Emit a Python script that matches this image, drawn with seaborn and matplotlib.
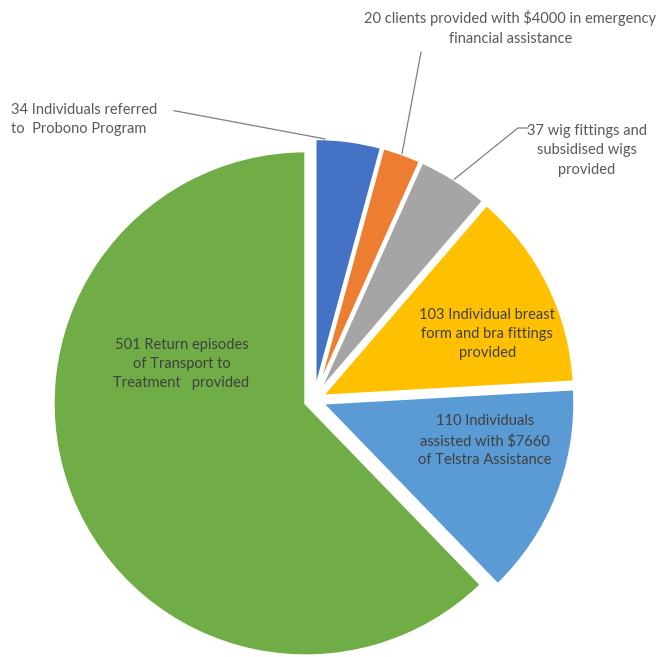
import numpy as np
import matplotlib
matplotlib.use("Agg")
import matplotlib.pyplot as plt
import seaborn as sns

# data, clockwise from 12 o'clock
labels = [
    "34 Individuals referred\nto  Probono Program",
    "20 clients provided with $4000 in emergency\nfinancial assistance",
    "37 wig fittings and\nsubsidised wigs\nprovided",
    "103 Individual breast\nform and bra fittings\nprovided",
    "110 Individuals\nassisted with $7660\nof Telstra Assistance",
    "501 Return episodes\nof Transport to\nTreatment   provided",
]
values = [34, 20, 37, 103, 110, 501]
colors = ["#4472C4", "#ED7D31", "#A5A5A5", "#FFC000", "#5B9BD5", "#70AD47"]

sns.set_style("white")
plt.rcParams['font.family'] = ['Lato', 'DejaVu Sans']

fig = plt.figure(figsize=(6.7, 6.57), dpi=100)
ax = fig.add_axes([0, 0, 1, 1])

wedges, _ = ax.pie(values, colors=colors, startangle=90, counterclock=False,
                   explode=[0.035] * len(values), radius=0.99,
                   wedgeprops=dict(edgecolor='white', linewidth=2))

ax.set_xlim(-1.231, 1.396)
ax.set_ylim(-1.008, 1.569)
ax.set_aspect('equal')
ax.axis('off')

out_col = '#595959'
in_col = '#404040'
fs = 10.5

# inside labels
ax.text(-0.52, 0.14, labels[5], ha='center', va='center', fontsize=fs,
        color=in_col, linespacing=1.45)
ax.text(0.68, 0.26, labels[3], ha='center', va='center', fontsize=fs,
        color=in_col, linespacing=1.45)
ax.text(0.67, -0.16, labels[4], ha='center', va='center', fontsize=fs,
        color=in_col, linespacing=1.45)


def arc_point(w, f):
    a = np.deg2rad(w.theta1 + f * (w.theta2 - w.theta1))
    cx, cy = w.center
    return cx + w.r * np.cos(a), cy + w.r * np.sin(a)


# outside labels with leader lines
ax.text(-1.19, 1.10, labels[0], ha='left', va='center', fontsize=fs,
        color=out_col, linespacing=1.5)
px, py = arc_point(wedges[0], 0.85)
ax.plot([-0.55, px], [1.135, py], color='#7f7f7f', lw=0.9)

ax.text(0.77, 1.46, labels[1], ha='center', va='center', fontsize=fs,
        color=out_col, linespacing=1.5)
px, py = arc_point(wedges[1], 0.5)
ax.plot([0.42, px], [1.365, py], color='#7f7f7f', lw=0.9)

ax.text(1.07, 0.98, labels[2], ha='center', va='center', fontsize=fs,
        color=out_col, linespacing=1.5)
px, py = arc_point(wedges[2], 0.5)
ax.plot([0.84, 0.80, px], [1.067, 1.067, py], color='#7f7f7f', lw=0.9)

fig.savefig('out.png', dpi=100)
